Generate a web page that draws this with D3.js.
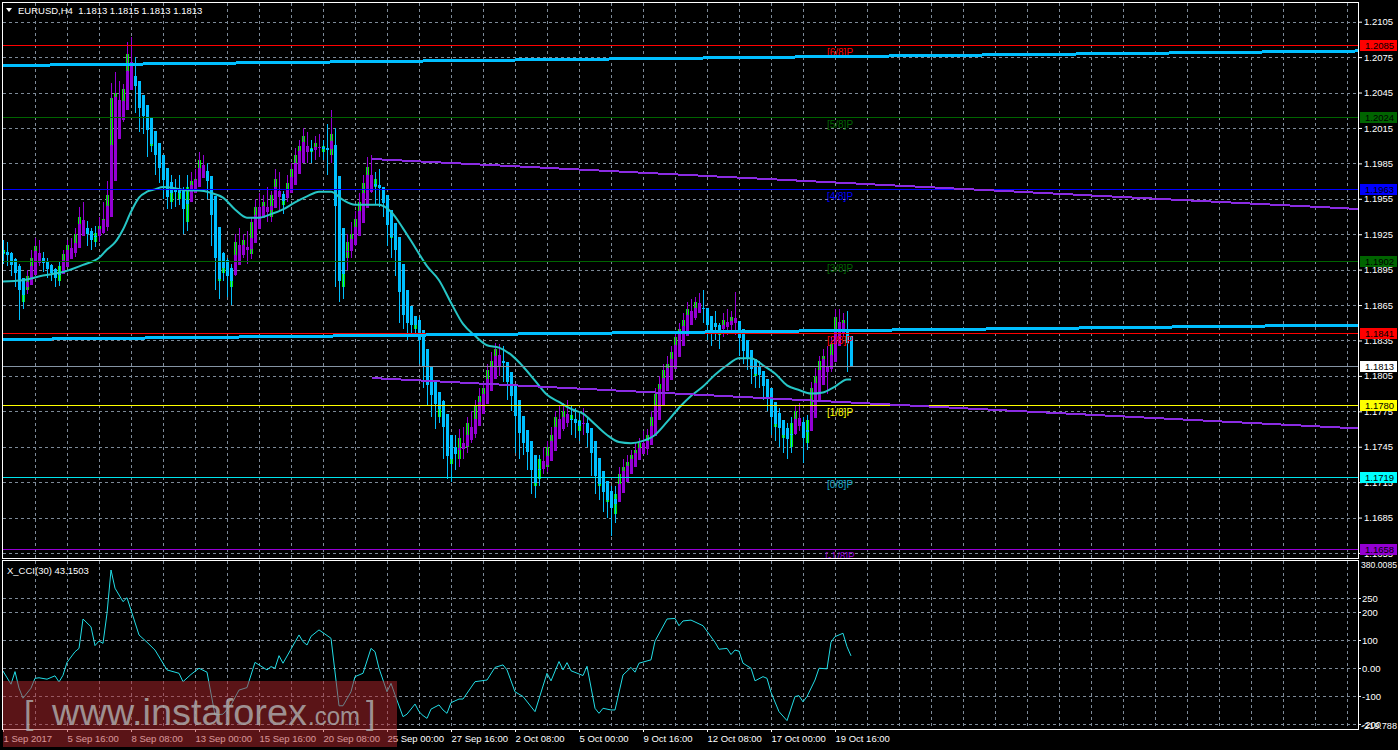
<!DOCTYPE html>
<html><head><meta charset="utf-8">
<script src="https://cdn.jsdelivr.net/npm/d3@7"></script>
<style>
body{margin:0;background:#000;overflow:hidden}
svg{display:block}
text{font-family:"Liberation Sans",Arial,sans-serif}
</style>
</head><body>
<svg id="chart" width="1398" height="750"></svg>
<script>
// ---------- DATA (prices in pips: 11813 = 1.1813) ----------
const symbolTitle = "EURUSD,H4  1.1813 1.1815 1.1813 1.1813";
const cciTitle = "X_CCI(30) 43.1503";
const opens = [11908,11912,11902,11895,11890,11868,11878,11890,11905,11915,11902,11897,11892,11890,11885,11898,11908,11916,11910,11925,11940,11930,11920,11918,11926,11932,11938,11958,12040,12045,12032,12048,12078,12060,12040,12025,12030,12000,12002,11985,11980,11962,11952,11968,11955,11960,11935,11965,11970,11972,11988,11980,11960,11925,11885,11892,11900,11880,11895,11918,11912,11920,11908,11935,11948,11945,11952,11940,11958,11972,11950,11958,11968,11980,11992,12000,12008,11995,11998,12002,11995,12000,11992,12010,11890,11880,11905,11918,11925,11938,11952,11968,11982,11965,11972,11955,11945,11922,11930,11895,11858,11852,11850,11845,11852,11820,11805,11790,11795,11770,11782,11745,11730,11742,11735,11752,11745,11765,11758,11780,11788,11795,11810,11818,11828,11825,11808,11792,11785,11768,11750,11745,11740,11712,11718,11735,11728,11745,11755,11770,11765,11775,11768,11772,11758,11768,11760,11752,11728,11712,11718,11698,11705,11688,11705,11722,11728,11732,11738,11742,11748,11745,11755,11770,11790,11798,11810,11815,11825,11838,11845,11852,11862,11858,11868,11865,11855,11842,11850,11840,11845,11852,11848,11855,11845,11830,11820,11815,11805,11810,11800,11792,11780,11762,11770,11752,11760,11745,11765,11775,11762,11748,11768,11795,11805,11818,11822,11812,11832,11855,11850,11852,11813];
const highs = [11920,11918,11910,11905,11900,11885,11895,11912,11922,11920,11910,11905,11900,11896,11902,11912,11920,11922,11930,11948,11952,11936,11930,11932,11940,11952,11970,12053,12062,12055,12052,12088,12092,12075,12050,12035,12034,12010,12008,11992,11985,11966,11975,11972,11975,11965,11975,11978,11980,11995,11992,11985,11965,11930,11900,11910,11905,11900,11925,11930,11925,11928,11940,11955,11960,11958,11965,11962,11980,11978,11962,11975,11985,11998,12005,12015,12012,12005,12008,12010,12005,12018,12030,12015,11905,11910,11925,11935,11945,11960,11975,11990,11992,11978,11980,11965,11950,11935,11932,11900,11870,11862,11860,11856,11855,11830,11815,11800,11800,11790,11785,11755,11750,11755,11760,11762,11770,11775,11785,11795,11800,11815,11825,11833,11832,11830,11815,11800,11790,11775,11760,11752,11745,11725,11738,11745,11750,11762,11775,11780,11782,11785,11780,11778,11775,11778,11770,11758,11735,11725,11722,11710,11712,11712,11728,11735,11738,11742,11748,11752,11758,11760,11775,11795,11805,11815,11822,11830,11842,11850,11858,11868,11870,11872,11875,11878,11862,11855,11860,11850,11858,11862,11860,11876,11850,11840,11832,11825,11815,11818,11808,11800,11785,11775,11778,11768,11765,11770,11780,11782,11770,11772,11800,11812,11822,11828,11830,11838,11862,11862,11858,11860,11815];
const lows = [11900,11898,11890,11880,11852,11862,11874,11886,11900,11898,11893,11888,11885,11880,11881,11894,11902,11905,11906,11920,11925,11915,11912,11914,11918,11925,11928,11950,12018,12022,12020,12040,12052,12028,12012,12010,11990,11995,11975,11968,11955,11946,11946,11948,11950,11925,11928,11955,11960,11968,11975,11955,11915,11878,11870,11885,11872,11865,11890,11905,11905,11900,11904,11928,11938,11940,11935,11935,11950,11945,11942,11952,11960,11972,11985,11990,11985,11985,11988,11990,11988,11975,11985,11880,11868,11870,11895,11905,11915,11930,11945,11960,11960,11950,11948,11940,11915,11905,11890,11850,11845,11835,11838,11840,11815,11795,11780,11770,11760,11765,11735,11718,11715,11725,11728,11735,11740,11748,11752,11770,11775,11790,11800,11810,11805,11800,11785,11775,11740,11735,11738,11725,11705,11702,11712,11722,11724,11738,11748,11760,11758,11762,11755,11752,11750,11755,11745,11720,11705,11700,11690,11685,11669,11680,11700,11712,11718,11725,11730,11735,11740,11738,11750,11765,11782,11790,11800,11808,11818,11828,11835,11845,11850,11852,11858,11850,11835,11830,11835,11828,11838,11840,11842,11840,11822,11815,11810,11798,11795,11795,11785,11775,11755,11750,11745,11740,11735,11740,11755,11758,11731,11742,11760,11785,11795,11808,11790,11808,11828,11835,11838,11808,11813];
const closes = [11912,11902,11895,11890,11868,11878,11890,11905,11915,11902,11897,11892,11890,11885,11898,11908,11916,11910,11925,11940,11930,11920,11918,11926,11932,11938,11958,12040,12045,12032,12048,12078,12060,12040,12025,12030,12000,12002,11985,11980,11962,11952,11968,11955,11960,11935,11965,11970,11972,11988,11980,11960,11925,11885,11892,11900,11880,11895,11918,11912,11920,11908,11935,11948,11945,11952,11940,11958,11972,11950,11958,11968,11980,11992,12000,12008,11995,11998,12002,11995,12000,11992,12010,11890,11880,11905,11918,11925,11938,11952,11968,11982,11965,11972,11955,11945,11922,11930,11895,11858,11852,11850,11845,11852,11820,11805,11790,11795,11770,11782,11745,11730,11742,11735,11752,11745,11765,11758,11780,11788,11795,11810,11818,11828,11825,11808,11792,11785,11768,11750,11745,11740,11712,11718,11735,11728,11745,11755,11770,11765,11775,11768,11772,11758,11768,11760,11752,11728,11712,11718,11698,11705,11688,11705,11722,11728,11732,11738,11742,11748,11745,11755,11770,11790,11798,11810,11815,11825,11838,11845,11852,11862,11858,11868,11865,11855,11842,11850,11840,11845,11852,11848,11855,11845,11830,11820,11815,11805,11810,11800,11792,11780,11762,11770,11752,11760,11745,11765,11775,11762,11748,11768,11795,11805,11818,11822,11812,11832,11855,11850,11852,11813,11813];

// moving average (at sample bars)
const maBars = [0,5,10,15,20,24,26,28,30,32,34,36,38,40,43,46,49,52,55,58,61,64,67,70,73,76,79,82,85,88,91,94,97,100,103,106,109,112,115,118,121,124,127,130,133,136,139,142,145,148,151,154,157,160,163,166,169,172,175,178,181,184,187,190,193,196,199,202,205,208,211,212];
const maValues = [11885,11886,11890,11893,11899,11905,11912,11918,11929,11944,11956,11961,11963,11965,11964,11962,11962,11960,11956,11946,11939,11939,11942,11946,11952,11957,11961,11961,11954,11950,11950,11950,11944,11930,11914,11898,11886,11867,11849,11839,11831,11829,11823,11813,11801,11789,11783,11777,11773,11764,11755,11749,11748,11750,11755,11766,11778,11788,11796,11806,11814,11820,11820,11814,11807,11797,11793,11790,11791,11796,11802,11802];

// CCI(30) values
const cciBars = [0,2,3,4,5,7,8,9,11,13,14,15,16,18,19,20,22,23,24,25,26,27,28,30,31,34,36,38,41,44,45,47,49,51,53,55,57,59,61,63,66,67,68,69,70,74,75,76,77,79,82,84,85,87,88,90,92,93,94,96,97,98,100,101,103,104,105,106,107,109,110,111,112,114,115,118,121,123,125,126,128,130,133,136,137,139,140,141,142,145,146,148,149,150,152,153,155,157,158,159,162,163,166,168,169,170,172,175,178,179,181,182,183,184,185,187,188,190,191,192,194,196,198,199,200,201,203,204,206,207,208,210,211,212];
const cciValues = [-11,-58,-13,-72,-108,-72,-37,-35,-40,-28,-50,-26,20,58,70,175,147,80,96,88,195,350,285,237,251,118,92,64,-7,-19,-49,-23,-1,-15,-168,-165,-132,-79,-70,20,-7,5,-1,44,17,118,94,82,113,136,106,-135,-135,-85,-31,-19,70,58,-1,-85,-55,-96,-174,-165,-129,-156,-170,-180,-147,-132,-150,-162,-124,-111,-111,-49,-43,2,11,-7,-85,-102,-156,-19,-46,23,-7,19,-10,-27,6,-144,-162,-144,-150,-150,-25,2,-15,17,29,96,175,177,151,168,171,151,92,67,70,48,64,60,17,-1,-46,-31,-37,-87,-156,-188,-102,-99,-121,-102,-43,-1,-3,92,112,124,76,43.1503];

// Murray Math levels
const murrayLevels = [1.2085,1.2024,1.1963,1.1902,1.1841,1.1780,1.1719,1.1658];
const murrayNames = ["[6/8]P","[5/8]P","[4/8]P","[3/8]P","[2/8]P","[1/8]P","[0/8]P","[-1/8]P"];
const bidPrice = 1.1813;

// trend lines: [startBar, startPrice, endBar, endPrice]
const channelLines = [[0,1.20679,338.75,1.20802],[0,1.18358,338.75,1.18481]];
const fallingLines = [[92.25,1.19887,338.75,1.19464],[92.25,1.18032,338.75,1.17605]];

// axes
const priceTicks = [1.2105,1.2075,1.2045,1.2015,1.1985,1.1955,1.1925,1.1895,1.1865,1.1835,1.1805,1.1775,1.1745,1.1715,1.1685,1.1655];
const cciTicks = [250,200,100,0,-100,-200];
const cciMin = -219.788, cciMax = 380.0085;
const cciMinLabel = "-219.788", cciMaxLabel = "380.0085";
const timeBars = [0,16,32,48,64,80,96,112,128,144,160,176,192,208];
const timeLabels = ["1 Sep 2017","5 Sep 16:00","8 Sep 08:00","13 Sep 00:00","15 Sep 16:00","20 Sep 08:00","25 Sep 00:00","27 Sep 16:00","2 Oct 08:00","5 Oct 00:00","9 Oct 16:00","12 Oct 08:00","17 Oct 00:00","19 Oct 16:00"];

// ---------- STYLE ----------
const murrayLineColors = ["#ff0000","#006400","#0000ff","#006400","#ff0000","#ffff00","#00e5ee","#9400d3"];
const murrayTextColors = ["#ff0000","#006400","#0000ff","#006400","#ff0000","#ffff00","#1aa8c8","#9400d3"];
const murrayBoxColors  = ["#ff0000","#006400","#0000ff","#006400","#ff0000","#ffff00","#00ffff","#9400d3"];
const HA_BULL="#9400d3", HA_BEAR="#00bfff", REAL_BULL="#00f000";
const GRID="#7d8a98";

// ---------- CHART ----------
const P = v => v/10000;
const svg = d3.select("#chart");
const L=3, R=1358, MT=3, MB=558, CT=561, CB=729;

const x = d3.scaleLinear().domain([0,338.75]).range([L,R]);
const y = d3.scaleLinear().domain([1.1655,1.2105]).range([553,21.7]);
const yc = d3.scaleLinear().domain([cciMin,cciMax]).range([729.5,561.6]);

svg.append("rect").attr("width",1398).attr("height",750).attr("fill","#000");

const defs = svg.append("defs");
defs.append("clipPath").attr("id","clipMain").append("rect").attr("x",L).attr("y",MT).attr("width",R-L).attr("height",MB-MT);
defs.append("clipPath").attr("id","clipCci").append("rect").attr("x",L).attr("y",CT).attr("width",R-L).attr("height",CB-CT);

// grid
const grid = svg.append("g").attr("stroke",GRID).attr("stroke-dasharray","3,3").attr("shape-rendering","crispEdges");
const vBars = d3.range(8, 339, 8);
grid.selectAll(".vg1").data(vBars).join("line")
  .attr("x1",d=>Math.round(x(d))+0.5).attr("x2",d=>Math.round(x(d))+0.5).attr("y1",MT).attr("y2",MB);
grid.selectAll(".vg2").data(vBars).join("line")
  .attr("x1",d=>Math.round(x(d))+0.5).attr("x2",d=>Math.round(x(d))+0.5).attr("y1",CT).attr("y2",CB);
grid.selectAll(".hg1").data(priceTicks).join("line")
  .attr("x1",L).attr("x2",R).attr("y1",d=>Math.round(y(d))+0.5).attr("y2",d=>Math.round(y(d))+0.5);
grid.selectAll(".hg2").data(cciTicks).join("line")
  .attr("x1",L).attr("x2",R).attr("y1",d=>Math.round(yc(d))+0.5).attr("y2",d=>Math.round(yc(d))+0.5);

// Heiken Ashi from OHLC
const n = closes.length;
const ha = [];
for (let i=0;i<n;i++){
  const o=P(opens[i]),h=P(highs[i]),l=P(lows[i]),c=P(closes[i]);
  const hc=(o+h+l+c)/4;
  const ho = i===0 ? (o+c)/2 : (ha[i-1].o+ha[i-1].c)/2;
  ha.push({i,o:ho,c:hc,h:Math.max(h,ho,hc),l:Math.min(l,ho,hc)});
}
const idx = d3.range(n);
const main = svg.append("g").attr("clip-path","url(#clipMain)").attr("shape-rendering","crispEdges");
const bx = i => Math.round(x(i));

// real bull bodies
main.selectAll(".real").data(idx.filter(i=>closes[i]>opens[i])).join("rect")
  .attr("x",i=>bx(i)-1).attr("width",3)
  .attr("y",i=>y(P(closes[i]))).attr("height",i=>Math.max(1,y(P(opens[i]))-y(P(closes[i]))))
  .attr("fill",REAL_BULL);
// HA wicks
main.selectAll(".haw").data(ha).join("line")
  .attr("x1",d=>bx(d.i)+0.5).attr("x2",d=>bx(d.i)+0.5)
  .attr("y1",d=>y(d.h)).attr("y2",d=>y(d.l))
  .attr("stroke",d=>d.c>d.o?HA_BULL:HA_BEAR).attr("stroke-width",1);
// HA bodies
main.selectAll(".hab").data(ha).join("rect")
  .attr("x",d=>bx(d.i)-1).attr("width",3)
  .attr("y",d=>y(Math.max(d.o,d.c))).attr("height",d=>Math.max(1,Math.abs(y(d.o)-y(d.c))))
  .attr("fill",d=>d.c>d.o?HA_BULL:HA_BEAR);

// moving average
const lineMain = svg.append("g").attr("clip-path","url(#clipMain)");
lineMain.append("path")
  .datum(maBars.map((b,k)=>[b,P(maValues[k])]))
  .attr("d",d3.line().x(d=>x(d[0])).y(d=>y(d[1])).curve(d3.curveMonotoneX))
  .attr("fill","none").attr("stroke","#26c6c6").attr("stroke-width",2);

// Murray lines
lineMain.selectAll(".ml").data(murrayLevels).join("line")
  .attr("x1",L).attr("x2",R).attr("y1",d=>Math.round(y(d))+0.5).attr("y2",d=>Math.round(y(d))+0.5)
  .attr("stroke",(d,k)=>murrayLineColors[k]).attr("stroke-width",1).attr("shape-rendering","crispEdges");
lineMain.selectAll(".mt").data(murrayLevels).join("text")
  .attr("x",840).attr("y",d=>y(d)+10.5).attr("text-anchor","middle")
  .attr("font-size",10).attr("fill",(d,k)=>murrayTextColors[k]).text((d,k)=>murrayNames[k]);

// bid line
lineMain.append("line").attr("x1",L).attr("x2",R)
  .attr("y1",Math.round(y(bidPrice))+0.5).attr("y2",Math.round(y(bidPrice))+0.5)
  .attr("stroke","#8594a4").attr("shape-rendering","crispEdges");

// trend lines
lineMain.selectAll(".ch").data(channelLines).join("line")
  .attr("x1",d=>x(d[0])).attr("y1",d=>y(d[1])).attr("x2",d=>x(d[2])).attr("y2",d=>y(d[3]))
  .attr("stroke","#00bfff").attr("stroke-width",3).attr("shape-rendering","crispEdges");
lineMain.selectAll(".fl").data(fallingLines).join("line")
  .attr("x1",d=>x(d[0])).attr("y1",d=>y(d[1])).attr("x2",d=>x(d[2])).attr("y2",d=>y(d[3]))
  .attr("stroke","#8a2be2").attr("stroke-width",2).attr("shape-rendering","crispEdges");

// CCI line
svg.append("g").attr("clip-path","url(#clipCci)").append("path")
  .datum(cciBars.map((b,k)=>[b,cciValues[k]]))
  .attr("d",d3.line().x(d=>x(d[0])).y(d=>yc(d[1])))
  .attr("fill","none").attr("stroke","#22dde6").attr("stroke-width",1);

// frames
svg.append("rect").attr("x",L-0.5).attr("y",MT-0.5).attr("width",R-L+1).attr("height",MB-MT+0.5)
  .attr("fill","none").attr("stroke","#fff").attr("shape-rendering","crispEdges");
svg.append("rect").attr("x",L-0.5).attr("y",CT-0.5).attr("width",R-L+1).attr("height",CB-CT+0.5)
  .attr("fill","none").attr("stroke","#fff").attr("shape-rendering","crispEdges");

const FONT = "Liberation Sans, Arial, sans-serif";
// price axis
const pa = svg.append("g").attr("transform",`translate(${R},0)`)
  .call(d3.axisRight(y).tickValues(priceTicks).tickSize(4).tickPadding(2).tickFormat(d3.format(".4f")));
pa.select(".domain").remove();
pa.selectAll("line").attr("stroke","#fff");
pa.selectAll("text").attr("fill","#fff").attr("font-size",9.5).attr("font-family",FONT);

// cci axis
const ca = svg.append("g").attr("transform",`translate(${R},0)`)
  .call(d3.axisRight(yc).tickValues(cciTicks).tickSize(3).tickPadding(1).tickFormat(d=>d===0?"0.00":String(d)));
ca.select(".domain").remove();
ca.selectAll("line").attr("stroke","#fff");
ca.selectAll("text").attr("fill","#fff").attr("font-size",9.5).attr("font-family",FONT);
svg.append("text").attr("x",R+3).attr("y",yc(cciMax)).attr("dy","0.75em")
  .attr("fill","#fff").attr("font-size",9).attr("textLength",36).attr("lengthAdjust","spacingAndGlyphs").text(cciMaxLabel);
svg.append("text").attr("x",R+3).attr("y",yc(cciMin)).attr("dy","-0.1em")
  .attr("fill","#fff").attr("font-size",9).attr("textLength",36).attr("lengthAdjust","spacingAndGlyphs").text(cciMinLabel);

// time axis
const ta = svg.append("g").attr("transform",`translate(0,${CB})`)
  .call(d3.axisBottom(x).tickValues(timeBars).tickSize(3).tickPadding(3).tickFormat((d,k)=>timeLabels[k]));
ta.select(".domain").remove();
ta.selectAll("line").attr("stroke","#fff");
ta.selectAll("text").attr("fill","#fff").attr("font-size",9.5).attr("text-anchor","start").attr("x",0)
  .attr("font-family",FONT);

// colored price boxes
const boxes = murrayLevels.map((v,k)=>({v,bg:murrayBoxColors[k]}));
boxes.splice(5,0,{v:bidPrice,bg:"#ffffff"});
const bg = svg.selectAll(".pbox").data(boxes).join("g");
bg.append("rect").attr("x",R+2).attr("width",37).attr("y",d=>Math.round(y(d.v))-5).attr("height",11).attr("fill",d=>d.bg);
bg.append("text").attr("x",R+7).attr("y",d=>y(d.v)).attr("dy","0.36em").attr("font-size",9.5).attr("fill","#000")
  .text(d=>d3.format(".4f")(d.v));

// titles
svg.append("path").attr("d","M6,8L12,8L9,12Z").attr("fill","#fff");
svg.append("text").attr("x",18).attr("y",14).attr("font-size",9.5).attr("fill","#fff").style("white-space","pre").text(symbolTitle);
svg.append("text").attr("x",7).attr("y",574).attr("font-size",9.5).attr("fill","#fff").text(cciTitle);

// watermark
const wm = svg.append("g");
wm.append("rect").attr("x",3).attr("y",681).attr("width",394).attr("height",66).attr("fill","#b4282e").attr("opacity",0.5);
wm.append("text").attr("x",24).attr("y",724).attr("font-size",34).attr("fill","#b0b0b0").attr("opacity",0.8).text("[");
wm.append("text").attr("x",52).attr("y",725).attr("font-size",36).attr("fill","#b0b0b0").attr("opacity",0.8)
  .attr("textLength",255).attr("lengthAdjust","spacingAndGlyphs").text("www.instaforex");
wm.append("text").attr("x",308).attr("y",725).attr("font-size",25).attr("fill","#b0b0b0").attr("opacity",0.8)
  .attr("textLength",52).attr("lengthAdjust","spacingAndGlyphs").text(".com");
wm.append("text").attr("x",366).attr("y",724).attr("font-size",34).attr("fill","#b0b0b0").attr("opacity",0.8).text("]");
</script>
</body></html>
